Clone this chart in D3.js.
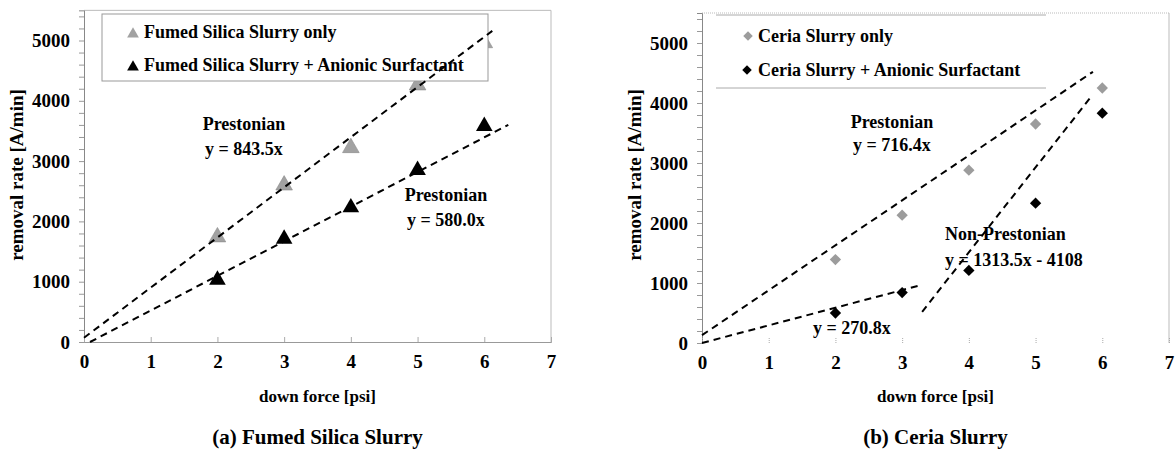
<!DOCTYPE html>
<html>
<head>
<meta charset="utf-8">
<script src="https://cdn.jsdelivr.net/npm/d3@7"></script>
<style>
  body { margin: 0; background: #fff; }
  svg text { font-family: "Liberation Serif", "Times New Roman", serif; font-weight: bold; fill: #000; }
</style>
</head>
<body>
<svg id="chart" width="1176" height="450"></svg>
<script>
// DATA
const forces = [2, 3, 4, 5, 6];
const xTicks = [0, 1, 2, 3, 4, 5, 6, 7];
const yTicks = [0, 1000, 2000, 3000, 4000, 5000];

// (a) fumed silica
const silicaOnly = [1740, 2600, 3220, 4260, 4960];
const silicaSurf = [1030, 1710, 2230, 2850, 3580];
// trend lines as [x0, y0, x1, y1]
const silicaOnlyFit = [0, 70, 6.12, 5160];
const silicaSurfFit = [0.09, 0, 6.36, 3600];

// (b) ceria
const ceriaOnly = [1390, 2130, 2880, 3650, 4250];
const ceriaSurf = [500, 840, 1210, 2330, 3830];
const ceriaOnlyFit = [0, 130, 5.86, 4520];
const ceriaLowFit = [0, 0, 3.3, 970];
const ceriaHighFit = [3.3, 520, 5.85, 4130];

const svg = d3.select("#chart");

function drawPanel(cfg) {
    const g = svg.append("g");

    // scales
    const x = d3.scaleLinear().domain([0, 7]).range([cfg.left, cfg.left + 467]);
    const y = d3.scaleLinear().domain([0, 5500]).range([cfg.bottom, cfg.bottom - 5.5 * cfg.pxPer1000]);

    // plot frame (top and right)
    g.append("line")
        .attr("x1", x(0)).attr("x2", x(7))
        .attr("y1", y(5500)).attr("y2", y(5500))
        .attr("stroke", "#bbb").attr("stroke-width", 1)
        .attr("stroke-dasharray", cfg.dottedTop ? "1,1" : null);
    g.append("line")
        .attr("x1", x(7)).attr("x2", x(7))
        .attr("y1", y(5500)).attr("y2", y(0))
        .attr("stroke", "#bbb").attr("stroke-width", 1);

    // y axis with minor ticks every 200
    const yAxis = g.append("g")
        .attr("transform", `translate(${x(0)},0)`)
        .call(d3.axisLeft(y)
            .tickValues(d3.range(0, 5500, 200))
            .tickSize(5)
            .tickPadding(9)
            .tickFormat(d => yTicks.includes(d) ? d : ""));
    yAxis.select(".domain").attr("stroke", "#888");
    yAxis.selectAll(".tick line").attr("stroke", "#999");
    yAxis.selectAll("text").style("font-size", "19px");

    // x axis
    const xAxis = g.append("g")
        .attr("transform", `translate(0,${y(0)})`)
        .call(d3.axisBottom(x)
            .tickValues(xTicks)
            .tickSize(-5)
            .tickPadding(13)
            .tickFormat(d3.format("d")));
    xAxis.select(".domain").attr("stroke", cfg.xLine ? "#999" : "none");
    xAxis.selectAll(".tick line").attr("stroke", "#aaa")
        .attr("stroke-dasharray", cfg.xLine ? null : "1,1");
    xAxis.selectAll("text").style("font-size", "19px");

    // axis titles
    g.append("text")
        .attr("x", (x(0) + x(7)) / 2)
        .attr("y", 402)
        .attr("text-anchor", "middle")
        .style("font-size", "17px")
        .text("down force [psi]");
    g.append("text")
        .attr("transform", `translate(${cfg.left - 61},175) rotate(-90)`)
        .attr("text-anchor", "middle")
        .style("font-size", "19px")
        .text("removal rate [A/min]");

    // caption
    g.append("text")
        .attr("x", (x(0) + x(7)) / 2)
        .attr("y", 444)
        .attr("text-anchor", "middle")
        .style("font-size", "21px")
        .text(cfg.caption);

    // points
    cfg.series.forEach(s => {
        g.selectAll(null)
            .data(forces.map((f, i) => ({ f, v: s.values[i] })))
            .join("path")
            .attr("d", d3.symbol().type(s.shape).size(s.size))
            .attr("transform", d => `translate(${x(d.f)},${y(d.v)}) rotate(${s.rot || 0})`)
            .attr("fill", s.color)
            .attr("stroke", s.stroke || "none")
            .attr("stroke-width", 0.6);
    });

    // legend
    const lg = cfg.legend;
    if (lg.box) {
        g.append("rect")
            .attr("x", lg.x).attr("y", lg.y)
            .attr("width", lg.w).attr("height", lg.h)
            .attr("fill", "#fff")
            .attr("stroke", "#999").attr("stroke-width", 1);
    } else {
        [lg.y, lg.y + lg.h].forEach(ly => {
            g.append("line")
                .attr("x1", lg.x).attr("x2", lg.x + lg.w)
                .attr("y1", ly).attr("y2", ly)
                .attr("stroke", "#aaa").attr("stroke-width", 1);
        });
    }
    cfg.series.forEach((s, i) => {
        const row = lg.rows[i];
        g.append("path")
            .attr("d", d3.symbol().type(s.shape).size(s.legendSize))
            .attr("transform", `translate(${row.mx},${row.my}) rotate(${s.rot || 0})`)
            .attr("fill", s.color);
        g.append("text")
            .attr("x", row.tx)
            .attr("y", row.ty)
            .style("font-size", "18px")
            .text(s.name);
    });

    // trend lines
    cfg.fits.forEach(f => {
        g.append("line")
            .attr("x1", x(f[0])).attr("y1", y(f[1]))
            .attr("x2", x(f[2])).attr("y2", y(f[3]))
            .attr("stroke", "#000")
            .attr("stroke-width", 2)
            .attr("stroke-dasharray", "7,5");
    });

    // annotations
    cfg.notes.forEach(n => {
        g.append("text")
            .attr("x", n.x).attr("y", n.y)
            .attr("text-anchor", n.anchor || "middle")
            .style("font-size", "18px")
            .text(n.text);
    });
}

drawPanel({
    left: 84, bottom: 342, pxPer1000: 60.3,
    xLine: true, dottedTop: false,
    caption: "(a) Fumed Silica Slurry",
    series: [
        { name: "Fumed Silica Slurry only", values: silicaOnly, shape: d3.symbolTriangle,
          size: 120, legendSize: 60, color: "#a2a2a2", stroke: "#8a8a8a" },
        { name: "Fumed Silica Slurry + Anionic Surfactant", values: silicaSurf, shape: d3.symbolTriangle,
          size: 120, legendSize: 60, color: "#000" }
    ],
    legend: { box: true, x: 102, y: 14, w: 386, h: 67,
        rows: [ { mx: 133, my: 34, tx: 144, ty: 38 }, { mx: 133, my: 67, tx: 144, ty: 71 } ] },
    fits: [silicaOnlyFit, silicaSurfFit],
    notes: [
        { x: 244, y: 130, text: "Prestonian" },
        { x: 244, y: 155, text: "y = 843.5x" },
        { x: 446, y: 201, text: "Prestonian" },
        { x: 446, y: 226, text: "y = 580.0x" }
    ]
});

drawPanel({
    left: 702, bottom: 343, pxPer1000: 60,
    xLine: false, dottedTop: true,
    caption: "(b) Ceria Slurry",
    series: [
        { name: "Ceria Slurry only", values: ceriaOnly, shape: d3.symbolSquare, rot: 45,
          size: 64, legendSize: 45, color: "#9c9c9c" },
        { name: "Ceria Slurry + Anionic Surfactant", values: ceriaSurf, shape: d3.symbolSquare, rot: 45,
          size: 64, legendSize: 45, color: "#000" }
    ],
    legend: { box: false, x: 716, y: 15, w: 330, h: 73,
        rows: [ { mx: 748, my: 36, tx: 758, ty: 42 }, { mx: 747, my: 70, tx: 758, ty: 76 } ] },
    fits: [ceriaOnlyFit, ceriaLowFit, ceriaHighFit],
    notes: [
        { x: 892, y: 128, text: "Prestonian" },
        { x: 892, y: 151, text: "y = 716.4x" },
        { x: 945, y: 240, text: "Non-Prestonian", anchor: "start" },
        { x: 945, y: 266, text: "y = 1313.5x - 4108", anchor: "start" },
        { x: 852, y: 334, text: "y = 270.8x" }
    ]
});
</script>
</body>
</html>
